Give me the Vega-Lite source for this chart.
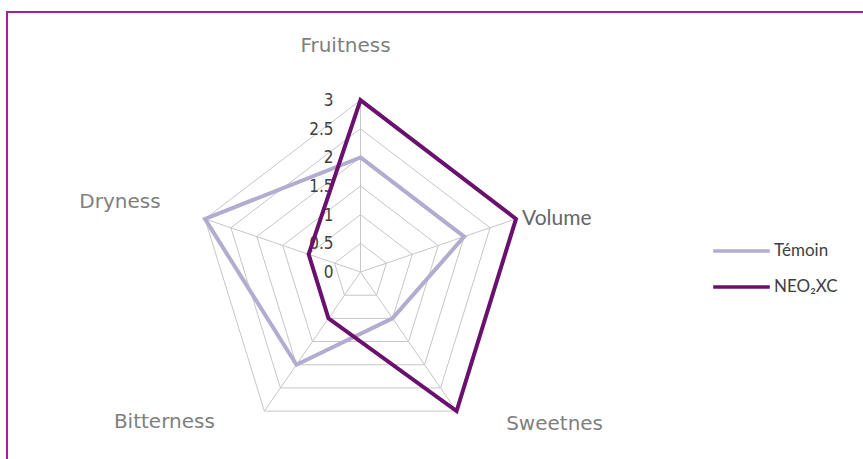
{
  "$schema": "https://vega.github.io/schema/vega-lite/v6.json",
  "width": 863,
  "height": 459,
  "autosize": {"type": "fit", "contains": "padding"},
  "padding": {"left": 7, "top": 12, "right": -2, "bottom": -2},
  "background": "white",
  "config": {"view": {"stroke": "#a21ea2", "strokeWidth": 2}},
  "datasets": {
    "series": [
      {"series": "Témoin", "axis": "Fruitness", "value": 2},
      {"series": "Témoin", "axis": "Volume", "value": 2},
      {"series": "Témoin", "axis": "Sweetnes", "value": 1},
      {"series": "Témoin", "axis": "Bitterness", "value": 2},
      {"series": "Témoin", "axis": "Dryness", "value": 3},
      {"series": "NEO₂XC", "axis": "Fruitness", "value": 3},
      {"series": "NEO₂XC", "axis": "Volume", "value": 3},
      {"series": "NEO₂XC", "axis": "Sweetnes", "value": 3},
      {"series": "NEO₂XC", "axis": "Bitterness", "value": 1},
      {"series": "NEO₂XC", "axis": "Dryness", "value": 1}
    ],
    "grid": [
      {"level": 0, "axis": ["Fruitness", "Volume", "Sweetnes", "Bitterness", "Dryness"]},
      {"level": 0.5, "axis": ["Fruitness", "Volume", "Sweetnes", "Bitterness", "Dryness"]},
      {"level": 1, "axis": ["Fruitness", "Volume", "Sweetnes", "Bitterness", "Dryness"]},
      {"level": 1.5, "axis": ["Fruitness", "Volume", "Sweetnes", "Bitterness", "Dryness"]},
      {"level": 2, "axis": ["Fruitness", "Volume", "Sweetnes", "Bitterness", "Dryness"]},
      {"level": 2.5, "axis": ["Fruitness", "Volume", "Sweetnes", "Bitterness", "Dryness"]},
      {"level": 3, "axis": ["Fruitness", "Volume", "Sweetnes", "Bitterness", "Dryness"]}
    ]
  },
  "layer": [
    {
      "data": {"name": "grid"},
      "transform": [
        {"flatten": ["axis"]},
        {"filter": "datum.level > 0"},
        {"calculate": "indexof(['Fruitness','Volume','Sweetnes','Bitterness','Dryness'], datum.axis)", "as": "idx"},
        {"calculate": "datum.level * sin(datum.idx * 2 * PI / 5)", "as": "gx"},
        {"calculate": "datum.level * cos(datum.idx * 2 * PI / 5)", "as": "gy"}
      ],
      "mark": {"type": "line", "interpolate": "linear-closed", "stroke": "#c6c6c6", "strokeWidth": 1},
      "encoding": {
        "x": {"field": "gx", "type": "quantitative", "scale": {"domain": [-6.486, 9.257], "nice": false, "zero": false}, "axis": null},
        "y": {"field": "gy", "type": "quantitative", "scale": {"domain": [-3.298, 4.538], "nice": false, "zero": false}, "axis": null},
        "detail": {"field": "level", "type": "nominal"},
        "order": {"field": "idx", "type": "quantitative"}
      }
    },
    {
      "data": {"name": "grid"},
      "transform": [
        {"flatten": ["axis"]},
        {"filter": "datum.level == 3"},
        {"calculate": "indexof(['Fruitness','Volume','Sweetnes','Bitterness','Dryness'], datum.axis)", "as": "idx"},
        {"calculate": "datum.level * sin(datum.idx * 2 * PI / 5)", "as": "gx"},
        {"calculate": "datum.level * cos(datum.idx * 2 * PI / 5)", "as": "gy"}
      ],
      "mark": {"type": "rule", "stroke": "#c6c6c6", "strokeWidth": 1},
      "encoding": {
        "x": {"field": "gx", "type": "quantitative"},
        "y": {"field": "gy", "type": "quantitative"},
        "x2": {"datum": 0},
        "y2": {"datum": 0}
      }
    },
    {
      "data": {"name": "grid"},
      "transform": [
        {"flatten": ["axis"]},
        {"filter": "datum.axis == 'Fruitness'"},
        {"calculate": "0", "as": "gx"},
        {"calculate": "datum.level", "as": "gy"}
      ],
      "mark": {"type": "text", "align": "right", "baseline": "middle", "dx": -27, "dy": 1, "font": "Liberation Sans Narrow, DejaVu Sans Condensed, Liberation Sans", "fontSize": 17, "fill": "#404040"},
      "encoding": {
        "x": {"field": "gx", "type": "quantitative"},
        "y": {"field": "gy", "type": "quantitative"},
        "text": {"field": "level", "type": "nominal"}
      }
    },
    {
      "data": {"name": "series"},
      "transform": [
        {"filter": "datum.series == 'Témoin'"},
        {"calculate": "indexof(['Fruitness','Volume','Sweetnes','Bitterness','Dryness'], datum.axis)", "as": "idx"},
        {"calculate": "datum.value * sin(datum.idx * 2 * PI / 5)", "as": "gx"},
        {"calculate": "datum.value * cos(datum.idx * 2 * PI / 5)", "as": "gy"}
      ],
      "mark": {"type": "line", "interpolate": "linear-closed", "strokeWidth": 4, "strokeJoin": "miter"},
      "encoding": {
        "x": {"field": "gx", "type": "quantitative"},
        "y": {"field": "gy", "type": "quantitative"},
        "order": {"field": "idx", "type": "quantitative"},
        "color": {
          "field": "series", "type": "nominal",
          "scale": {"domain": ["Témoin", "NEO₂XC"], "range": ["#b3acd0", "#6a106e"]},
          "legend": {
            "orient": "none", "legendX": 704, "legendY": 221, "title": null,
            "symbolType": "stroke", "symbolSize": 3200, "symbolStrokeWidth": 3.5,
            "labelFont": "Lato", "labelFontSize": 17, "labelColor": "#404040",
            "labelOffset": 2, "clipHeight": 36, "rowPadding": 0, "padding": 0
          }
        }
      }
    },
    {
      "data": {"name": "series"},
      "transform": [
        {"filter": "datum.series == 'NEO₂XC'"},
        {"calculate": "indexof(['Fruitness','Volume','Sweetnes','Bitterness','Dryness'], datum.axis)", "as": "idx"},
        {"calculate": "datum.value * sin(datum.idx * 2 * PI / 5)", "as": "gx"},
        {"calculate": "datum.value * cos(datum.idx * 2 * PI / 5)", "as": "gy"}
      ],
      "mark": {"type": "line", "interpolate": "linear-closed", "strokeWidth": 4, "strokeJoin": "miter"},
      "encoding": {
        "x": {"field": "gx", "type": "quantitative"},
        "y": {"field": "gy", "type": "quantitative"},
        "order": {"field": "idx", "type": "quantitative"},
        "color": {"field": "series", "type": "nominal"}
      }
    },
    {
      "data": {"name": "grid"},
      "transform": [
        {"flatten": ["axis"]},
        {"filter": "datum.level == 3 && datum.axis == 'Fruitness'"},
        {"calculate": "0", "as": "gx"},
        {"calculate": "datum.level", "as": "gy"}
      ],
      "mark": {"type": "text", "align": "center", "baseline": "alphabetic", "dx": -15, "dy": -48, "font": "DejaVu Sans", "fontSize": 20, "fill": "#7f7f7f"},
      "encoding": {
        "x": {"field": "gx", "type": "quantitative"},
        "y": {"field": "gy", "type": "quantitative"},
        "text": {"field": "axis", "type": "nominal"}
      }
    },
    {
      "data": {"name": "grid"},
      "transform": [
        {"flatten": ["axis"]},
        {"filter": "datum.level == 3 && datum.axis == 'Volume'"},
        {"calculate": "datum.level * sin(2 * PI / 5)", "as": "gx"},
        {"calculate": "datum.level * cos(2 * PI / 5)", "as": "gy"}
      ],
      "mark": {"type": "text", "align": "left", "baseline": "alphabetic", "dx": 6, "dy": 6, "font": "Lato", "fontSize": 21, "fill": "#666666"},
      "encoding": {
        "x": {"field": "gx", "type": "quantitative"},
        "y": {"field": "gy", "type": "quantitative"},
        "text": {"field": "axis", "type": "nominal"}
      }
    },
    {
      "data": {"name": "grid"},
      "transform": [
        {"flatten": ["axis"]},
        {"filter": "datum.level == 3 && datum.axis == 'Sweetnes'"},
        {"calculate": "datum.level * sin(4 * PI / 5)", "as": "gx"},
        {"calculate": "datum.level * cos(4 * PI / 5)", "as": "gy"}
      ],
      "mark": {"type": "text", "align": "center", "baseline": "alphabetic", "dx": 98, "dy": 19, "font": "DejaVu Sans", "fontSize": 20, "fill": "#7f7f7f"},
      "encoding": {
        "x": {"field": "gx", "type": "quantitative"},
        "y": {"field": "gy", "type": "quantitative"},
        "text": {"field": "axis", "type": "nominal"}
      }
    },
    {
      "data": {"name": "grid"},
      "transform": [
        {"flatten": ["axis"]},
        {"filter": "datum.level == 3 && datum.axis == 'Bitterness'"},
        {"calculate": "datum.level * sin(6 * PI / 5)", "as": "gx"},
        {"calculate": "datum.level * cos(6 * PI / 5)", "as": "gy"}
      ],
      "mark": {"type": "text", "align": "center", "baseline": "alphabetic", "dx": -100, "dy": 17, "font": "DejaVu Sans", "fontSize": 20, "fill": "#7f7f7f"},
      "encoding": {
        "x": {"field": "gx", "type": "quantitative"},
        "y": {"field": "gy", "type": "quantitative"},
        "text": {"field": "axis", "type": "nominal"}
      }
    },
    {
      "data": {"name": "grid"},
      "transform": [
        {"flatten": ["axis"]},
        {"filter": "datum.level == 3 && datum.axis == 'Dryness'"},
        {"calculate": "datum.level * sin(8 * PI / 5)", "as": "gx"},
        {"calculate": "datum.level * cos(8 * PI / 5)", "as": "gy"}
      ],
      "mark": {"type": "text", "align": "center", "baseline": "alphabetic", "dx": -85, "dy": -11, "font": "DejaVu Sans", "fontSize": 20, "fill": "#7f7f7f"},
      "encoding": {
        "x": {"field": "gx", "type": "quantitative"},
        "y": {"field": "gy", "type": "quantitative"},
        "text": {"field": "axis", "type": "nominal"}
      }
    }
  ]
}
